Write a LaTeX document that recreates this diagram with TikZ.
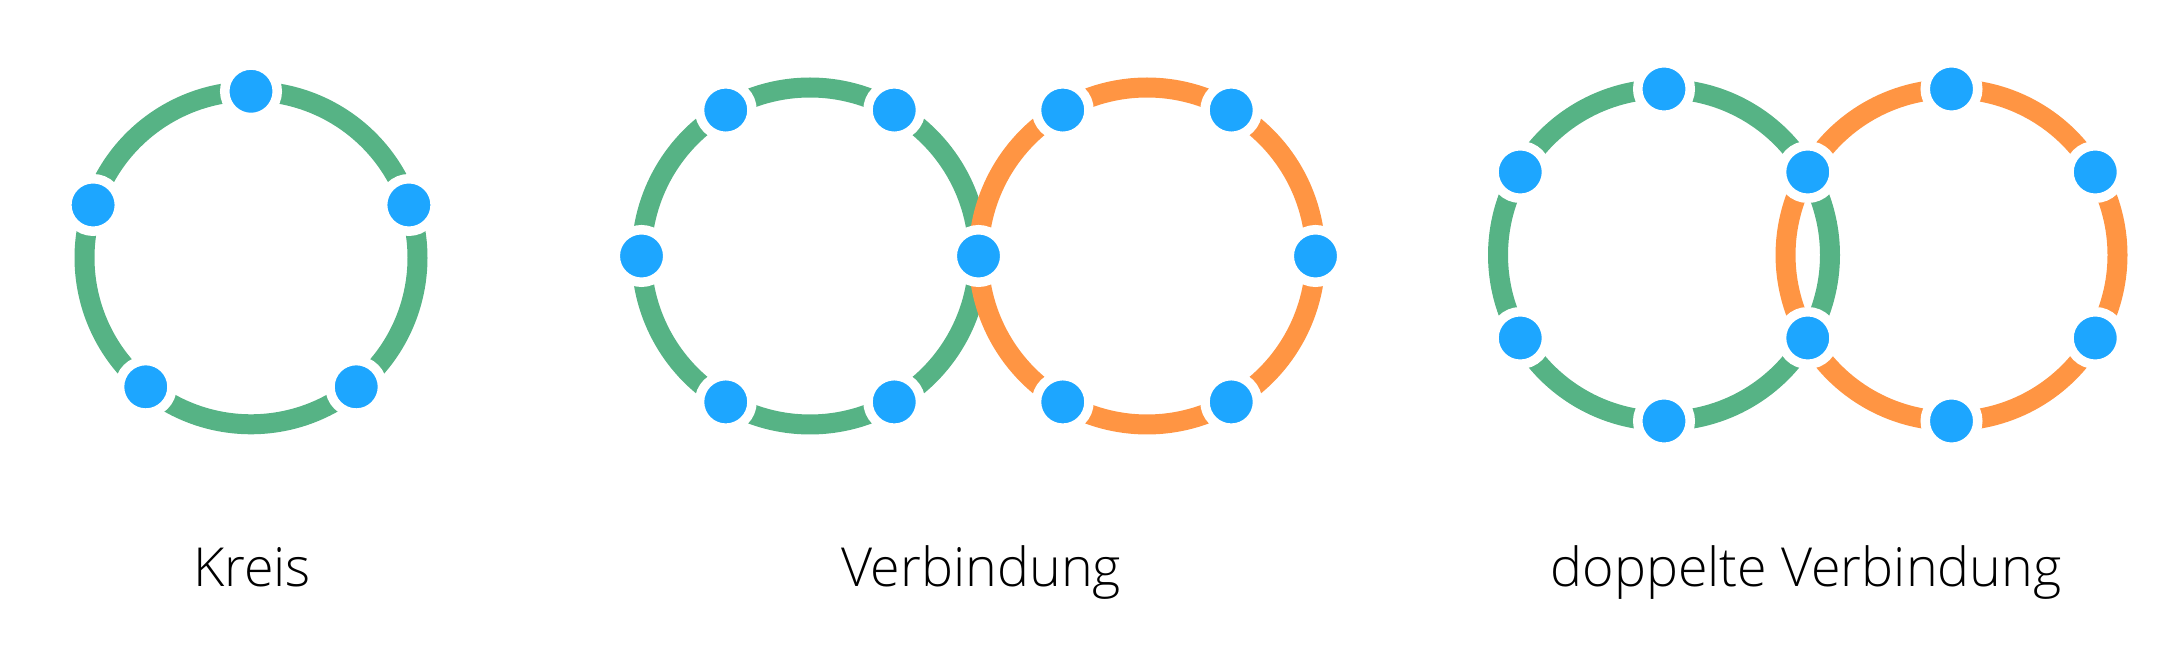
\documentclass[tikz,border=0pt]{standalone}
\usepackage{fontspec}
\newfontfamily\lightfont{Open Sans Light}
\usetikzlibrary{backgrounds,calc}
\definecolor{ringgreen}{HTML}{56B385}
\definecolor{ringorange}{HTML}{FF9543}
\definecolor{dotblue}{HTML}{1DA6FF}
\begin{document}
\begin{tikzpicture}[x=1pt,y=1pt,
  dot/.style={circle,fill=dotblue,draw=white,line width=9.5pt,minimum size=52.5pt,inner sep=0pt},
  gring/.style={draw=ringgreen,line width=20pt},
  oring/.style={draw=ringorange,line width=20pt},
  caption/.style={anchor=base,inner sep=0pt,font=\lightfont\fontsize{53.8}{60}\selectfont}]
\useasboundingbox (0,0) rectangle (2177,661);
% ---------- Kreis ----------
\coordinate (kc) at (251,403.2);
\node[dot] (k1) at ($(kc)+(90:166.5)$) {};
\node[dot] (k2) at ($(kc)+(161.5:166.5)$) {};
\node[dot] (k3) at ($(kc)+(230.8:166.5)$) {};
\node[dot] (k4) at ($(kc)+(309.2:166.5)$) {};
\node[dot] (k5) at ($(kc)+(18.5:166.5)$) {};
% ---------- Verbindung ----------
\coordinate (vg) at (810,405);
\coordinate (vo) at (1147,405);
\node[dot] (v0) at ($(vg)+(0:168.5)$) {};
\node[dot] (g60) at ($(vg)+(60:168.5)$) {};
\node[dot] (g120) at ($(vg)+(120:168.5)$) {};
\node[dot] (g180) at ($(vg)+(180:168.5)$) {};
\node[dot] (g240) at ($(vg)+(240:168.5)$) {};
\node[dot] (g300) at ($(vg)+(300:168.5)$) {};
\node[dot] (o0) at ($(vo)+(0:168.5)$) {};
\node[dot] (o60) at ($(vo)+(60:168.5)$) {};
\node[dot] (o120) at ($(vo)+(120:168.5)$) {};
\node[dot] (o240) at ($(vo)+(240:168.5)$) {};
\node[dot] (o300) at ($(vo)+(300:168.5)$) {};
% ---------- doppelte Verbindung ----------
\coordinate (dg) at (1664,406);
\coordinate (do) at (1951.5,406);
\node[dot] (s1) at ($(dg)+(30:166)$) {};
\node[dot] (s2) at ($(dg)+(330:166)$) {};
\node[dot] (d90) at ($(dg)+(90:166)$) {};
\node[dot] (d150) at ($(dg)+(150:166)$) {};
\node[dot] (d210) at ($(dg)+(210:166)$) {};
\node[dot] (d270) at ($(dg)+(270:166)$) {};
\node[dot] (e90) at ($(do)+(90:166)$) {};
\node[dot] (e30) at ($(do)+(30:166)$) {};
\node[dot] (e330) at ($(do)+(330:166)$) {};
\node[dot] (e270) at ($(do)+(270:166)$) {};
% ---------- rings ----------
\begin{pgfonlayer}{background}
\path[gring] (k1.center) arc[start angle=90,end angle=161.5,radius=166.5];
\path[gring] (k2.center) arc[start angle=161.5,end angle=230.8,radius=166.5];
\path[gring] (k3.center) arc[start angle=230.8,end angle=309.2,radius=166.5];
\path[gring] (k4.center) arc[start angle=309.2,end angle=378.5,radius=166.5];
\path[gring] (k5.center) arc[start angle=18.5,end angle=90,radius=166.5];
%
\path[gring] (v0.center) arc[start angle=0,end angle=60,radius=168.5];
\path[gring] (g60.center) arc[start angle=60,end angle=120,radius=168.5];
\path[gring] (g120.center) arc[start angle=120,end angle=180,radius=168.5];
\path[gring] (g180.center) arc[start angle=180,end angle=240,radius=168.5];
\path[gring] (g240.center) arc[start angle=240,end angle=300,radius=168.5];
\path[gring] (g300.center) arc[start angle=300,end angle=360,radius=168.5];
\path[oring] (o0.center) arc[start angle=0,end angle=60,radius=168.5];
\path[oring] (o60.center) arc[start angle=60,end angle=120,radius=168.5];
\path[oring] (o120.center) arc[start angle=120,end angle=180,radius=168.5];
\path[oring] (v0.center) arc[start angle=180,end angle=240,radius=168.5];
\path[oring] (o240.center) arc[start angle=240,end angle=300,radius=168.5];
\path[oring] (o300.center) arc[start angle=300,end angle=360,radius=168.5];
%
\path[gring] (s1.center) arc[start angle=30,end angle=90,radius=166];
\path[gring] (d90.center) arc[start angle=90,end angle=150,radius=166];
\path[gring] (d150.center) arc[start angle=150,end angle=210,radius=166];
\path[gring] (d210.center) arc[start angle=210,end angle=270,radius=166];
\path[gring] (d270.center) arc[start angle=270,end angle=330,radius=166];
\path[gring] (s2.center) arc[start angle=330,end angle=390,radius=166];
\path[oring] (e30.center) arc[start angle=30,end angle=90,radius=166];
\path[oring] (e90.center) arc[start angle=90,end angle=150,radius=166];
\path[oring] (s1.center) arc[start angle=150,end angle=210,radius=166];
\path[oring] (s2.center) arc[start angle=210,end angle=270,radius=166];
\path[oring] (e270.center) arc[start angle=270,end angle=330,radius=166];
\path[oring] (e330.center) arc[start angle=330,end angle=390,radius=166];
\end{pgfonlayer}
% ---------- captions ----------
\node[caption] (t1) at (252,74.3) {Kreis};
\node[caption] (t2) at (981,74.3) {Verbindung};
\node[caption] (t3) at (1806,74.3) {doppelte Verbindung};
\end{tikzpicture}
\end{document}
